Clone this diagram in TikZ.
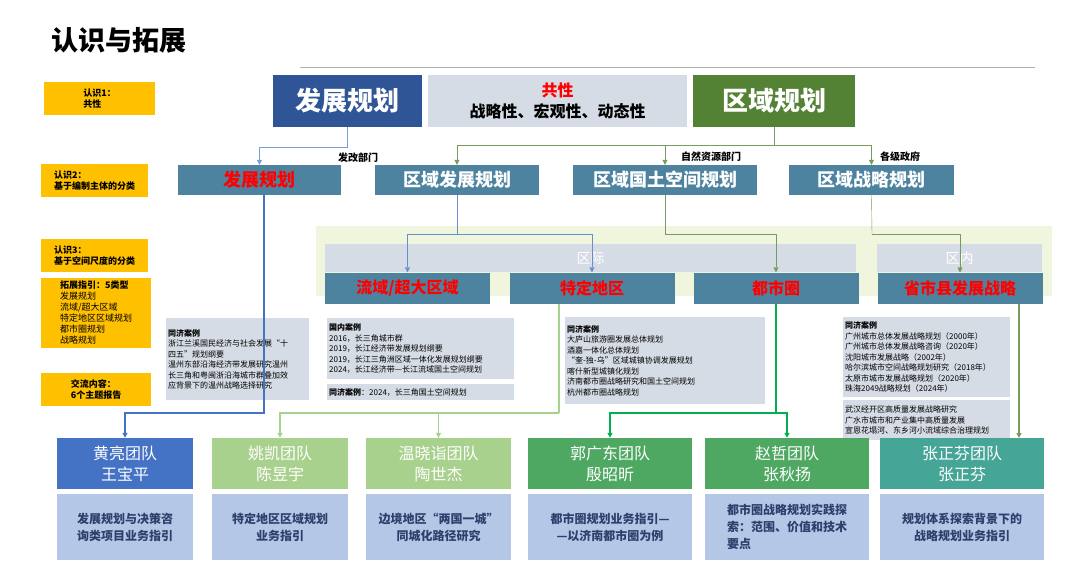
\documentclass[tikz,border=0pt]{standalone}
\usepackage{fontspec}
\newfontfamily\cjk{Noto Sans CJK SC}
\usetikzlibrary{arrows.meta}
\definecolor{yel}{HTML}{FFC000}
\definecolor{navy}{HTML}{2F5597}
\definecolor{grayband}{HTML}{D6DCE5}
\definecolor{darkgreen}{HTML}{548235}
\definecolor{rowblue}{HTML}{4E83A0}
\definecolor{panel}{HTML}{EFF6DD}
\definecolor{lgreen}{HTML}{A9D18E}
\definecolor{mgreen}{HTML}{4EA862}
\definecolor{teal}{HTML}{45A596}
\definecolor{tblue}{HTML}{4472C4}
\definecolor{descblue}{HTML}{B4C7E7}
\definecolor{desctext}{HTML}{2F3F6B}
\definecolor{bgreen}{HTML}{00B050}
\definecolor{ablue}{HTML}{4472C4}
\begin{document}
\begin{tikzpicture}[x=1pt,y=-1pt,font=\cjk,
    yellowbox/.style={fill=yel, inner sep=3pt, align=left, anchor=north west, font=\cjk\bfseries\fontsize{9}{11}\selectfont},
    headbox/.style={minimum height=52pt, text=white, font=\cjk\bfseries\fontsize{26}{30}\selectfont},
    rowbox/.style={fill=rowblue, minimum height=30pt, text=white, font=\cjk\bfseries\fontsize{18}{20}\selectfont},
    scalebox/.style={fill=rowblue, minimum height=31pt, minimum width=165pt, text=red, font=\cjk\bfseries\fontsize{16}{18}\selectfont},
    casebox/.style={fill=grayband, anchor=north west, align=left, inner sep=2pt, font=\cjk\fontsize{8}{10.5}\selectfont},
    teambox/.style={minimum height=51pt, text=white, align=center, font=\cjk\fontsize{16}{21}\selectfont},
    descbox/.style={fill=descblue, minimum height=66pt, text=desctext, align=center, font=\cjk\bfseries\fontsize{12}{17}\selectfont},
    lbl/.style={font=\cjk\bfseries\fontsize{10}{12}\selectfont},
    arr/.style={-{Triangle[length=5pt,width=5pt]}}]
\useasboundingbox (0,0) rectangle (1080,565);
% title
\node[anchor=west, font=\cjk\bfseries\fontsize{27}{30}\selectfont] (title) at (48,40) {认识与拓展};
\draw[gray!60] (300,67) -- (1035,67);
% left labels
\node[yellowbox, minimum width=111pt, minimum height=33pt] (k1) at (44,82) {认识1：\\共性};
\node[yellowbox, minimum width=107pt, minimum height=33pt] (k2) at (41,164) {认识2：\\基于编制主体的分类};
\node[yellowbox, minimum width=107pt, minimum height=33pt] (k3) at (41,239) {认识3：\\基于空间尺度的分类};
\node[yellowbox, minimum width=110pt, font=\cjk\fontsize{9}{11}\selectfont] (k4) at (41,278) {\textbf{拓展指引：5类型}\\发展规划\\流域/超大区域\\特定地区区域规划\\都市圈规划\\战略规划};
\node[yellowbox, minimum width=110pt, minimum height=33pt] (k5) at (41,373) {交流内容：\\6个主题报告};
% top row
\node[headbox, fill=navy, minimum width=149pt] (fz) at (347.5,101) {发展规划};
\node[fill=grayband, minimum width=259pt, minimum height=52pt, align=center, font=\cjk\bfseries\fontsize{16}{21}\selectfont] (gx) at (557.5,101) {\textcolor{red}{共性}\\战略性、宏观性、动态性};
\node[headbox, fill=darkgreen, minimum width=162pt] (qy) at (774,101) {区域规划};
% second row
\node[rowbox, minimum width=163pt, text=red] (r1) at (259.5,180) {发展规划};
\node[rowbox, minimum width=164pt] (r2) at (457,180) {区域发展规划};
\node[rowbox, minimum width=184pt] (r3) at (665,180) {区域国土空间规划};
\node[rowbox, minimum width=165pt] (r4) at (871.5,180) {区域战略规划};
\node[lbl] (l1) at (358,158) {发改部门};
\node[lbl] (l2) at (711,157) {自然资源部门};
\node[lbl] (l3) at (900,157) {各级政府};
% panel
\fill[panel] (316,226) rectangle (1052,296);
\node[fill=grayband, minimum width=531pt, minimum height=28pt, text=white, font=\cjk\fontsize{14}{16}\selectfont] (qj) at (590.5,258) {区际};
\node[fill=grayband, minimum width=165pt, minimum height=28pt, text=white, font=\cjk\fontsize{14}{16}\selectfont] (qn) at (959.5,258) {区内};
\node[scalebox] (s1) at (407.5,288) {流域/超大区域};
\node[scalebox] (s2) at (592,288) {特定地区};
\node[scalebox] (s3) at (776,288) {都市圈};
\node[scalebox] (s4) at (960,288) {省市县发展战略};
% cases
\node[casebox, text width=139pt, minimum height=82pt] (c1) at (166,318) {\textbf{同济案例}\\浙江兰溪国民经济与社会发展“十\\四五”规划纲要\\温州东部沿海经济带发展研究温州\\长三角和粤闽浙沿海城市群叠加效\\应背景下的温州战略选择研究};
\node[casebox, text width=183pt, minimum height=61pt] (c2) at (327,318) {\textbf{国内案例}\\2016，长三角城市群\\2019，长江经济带发展规划纲要\\2019，长江三角洲区域一体化发展规划纲要\\2024，长江经济带—长江流域国土空间规划};
\node[casebox, text width=183pt, minimum height=16pt] (c3) at (327,384) {\textbf{同济案例}：2024，长三角国土空间规划};
\node[casebox, text width=196pt, minimum height=87pt] (c4) at (565,317) {\textbf{同济案例}\\大庐山旅游圈发展总体规划\\酒嘉一体化总体规划\\“奎-独-乌”区域城镇协调发展规划\\喀什新型城镇化规划\\济南都市圈战略研究和国土空间规划\\杭州都市圈战略规划};
\node[casebox, text width=163pt, minimum height=80pt] (c5) at (843,317) {\textbf{同济案例}\\广州城市总体发展战略规划（2000年）\\广州城市总体发展战略咨询（2020年）\\沈阳城市发展战略（2002年）\\哈尔滨城市空间战略规划研究（2018年）\\太原市城市发展战略规划（2020年）\\珠海2049战略规划（2024年）};
\node[casebox, text width=163pt, minimum height=40pt] (c6) at (843,400) {武汉经开区高质量发展战略研究\\广水市城市和产业集中高质量发展\\宣恩花塌河、东乡河小流域综合治理规划};
% teams
\node[teambox, fill=tblue, minimum width=136pt] (t1) at (125,463.5) {黄亮团队\\王宝平};
\node[teambox, fill=lgreen, minimum width=136pt] (t2) at (280,463.5) {姚凯团队\\陈昱宇};
\node[teambox, fill=lgreen, minimum width=145pt] (t3) at (438.5,463.5) {温晓诣团队\\陶世杰};
\node[teambox, fill=mgreen, minimum width=164pt] (t4) at (610,463.5) {郭广东团队\\殷昭昕};
\node[teambox, fill=mgreen, minimum width=164pt] (t5) at (787,463.5) {赵哲团队\\张秋扬};
\node[teambox, fill=teal, minimum width=164pt] (t6) at (962,463.5) {张正芬团队\\张正芬};
\node[descbox, minimum width=136pt] (d1) at (125,527) {发展规划与决策咨\\询类项目业务指引};
\node[descbox, minimum width=136pt] (d2) at (280,527) {特定地区区域规划\\业务指引};
\node[descbox, minimum width=145pt] (d3) at (438.5,527) {边境地区“两国一城”\\同城化路径研究};
\node[descbox, minimum width=164pt] (d4) at (610,527) {都市圈规划业务指引—\\—以济南都市圈为例};
\node[descbox, minimum width=164pt, align=left] (d5) at (787,527) {都市圈战略规划实践探\\索：范围、价值和技术\\要点};
\node[descbox, minimum width=164pt] (d6) at (962,527) {规划体系探索背景下的\\战略规划业务指引};
% connectors top
\draw[ablue!70, arr] (fz.south) -- ++(0,20) -| (r1.north);
\draw[darkgreen!80] (qy.south) -- ++(0,18) coordinate (g0);
\draw[darkgreen!80, arr] (g0) -| (r2.north);
\draw[darkgreen!80, arr] (g0) -| (r3.north);
\draw[darkgreen!80, arr] (g0) -| (r4.north);
% connectors middle
\draw[ablue!80] (r2.south) -- (457,234) coordinate (b0);
\draw[ablue!80, arr] (b0) -| (s1.north);
\draw[ablue!80, arr] (b0) -| (s2.north);
\draw[darkgreen!80] (r3.south) -- (665,234) coordinate (g1);
\draw[darkgreen!80, arr] (g1) -| (s3.north);
\draw[darkgreen!80] (r4.south) -- (872,234) coordinate (g2);
\draw[darkgreen!80, arr] (g2) -| (960,272.5);
% connectors bottom
\draw[ablue, line width=1.6pt, arr] (264,195) -- (264,413) -| (t1.north);
\draw[lgreen, line width=1.6pt] (559,303.5) -- (559,413) coordinate (lg);
\draw[lgreen, line width=1.6pt, arr] (lg) -| (t2.north);
\draw[lgreen, line width=1.6pt, arr] (lg) -| (t3.north);
\draw[bgreen, line width=1.6pt] (s3.south) -- (776,413) coordinate (mg);
\draw[bgreen, line width=1.6pt, arr] (mg) -| (t4.north);
\draw[bgreen, line width=1.6pt, arr] (mg) -| (t5.north);
\draw[darkgreen!80, line width=1.2pt, arr] (1019,303.5) -- (1019,438);
\end{tikzpicture}
\end{document}
